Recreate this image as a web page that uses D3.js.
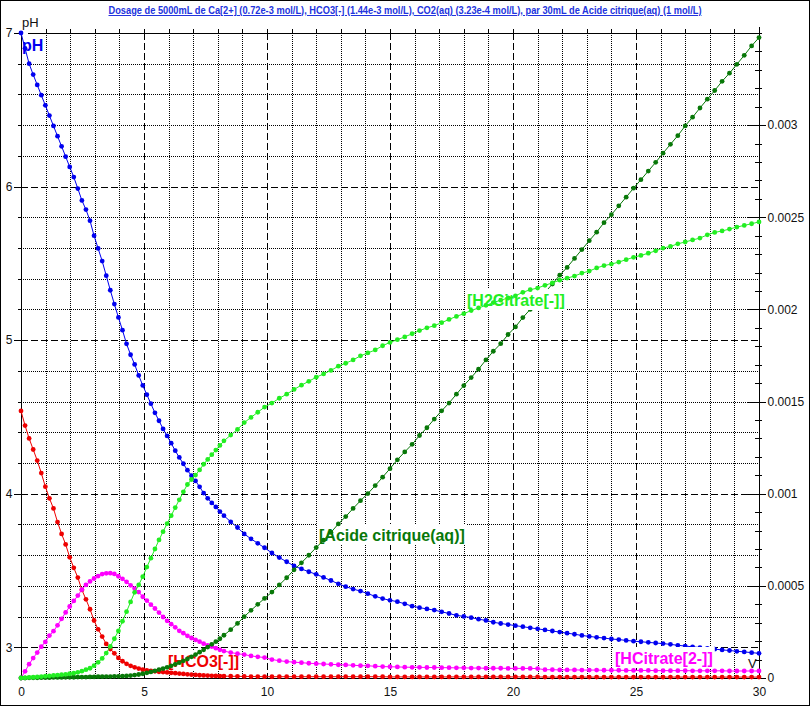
<!DOCTYPE html>
<html>
<head>
<meta charset="utf-8">
<script src="https://cdn.jsdelivr.net/npm/d3@7"></script>
<style>
  body { margin: 0; background: #fff; }
  svg { display: block; }
</style>
</head>
<body>
<svg id="chart" width="810" height="706"></svg>
<script>
/* global d3 */

// volume of titrant added (mL) - one entry per computed point
const volumes = [
  0, 0.165, 0.33, 0.495, 0.66, 0.825, 0.99, 1.155, 1.32, 1.485,
  1.65, 1.815, 1.98, 2.145, 2.31, 2.475, 2.64, 2.805, 2.97, 3.135,
  3.3, 3.465, 3.63, 3.795, 3.96, 4.125, 4.29, 4.455, 4.62, 4.785,
  4.95, 5.115, 5.28, 5.445, 5.61, 5.775, 5.94, 6.105, 6.27, 6.435,
  6.6, 6.765, 6.93, 7.095, 7.26, 7.425, 7.59, 7.755, 7.92, 8.085,
  8.25, 8.525, 8.8, 9.075, 9.35, 9.625, 9.9, 10.2, 10.5, 10.8,
  11.1, 11.4, 11.7, 12, 12.3, 12.6, 12.9, 13.2, 13.5, 13.8,
  14.1, 14.4, 14.7, 15, 15.3, 15.6, 15.9, 16.2, 16.5, 16.8,
  17.1, 17.4, 17.7, 18, 18.3, 18.6, 18.9, 19.2, 19.5, 19.8,
  20.1, 20.4, 20.7, 21, 21.3, 21.6, 21.9, 22.2, 22.5, 22.8,
  23.1, 23.4, 23.7, 24, 24.3, 24.6, 24.9, 25.2, 25.5, 25.8,
  26.1, 26.4, 26.7, 27, 27.3, 27.6, 27.9, 28.2, 28.5, 28.8,
  29.1, 29.4, 29.7, 30
]

const pHValues = [
  7.00, 6.90, 6.80, 6.729, 6.662, 6.595, 6.529, 6.462, 6.395, 6.328,
  6.262, 6.195, 6.128, 6.062, 5.987, 5.91, 5.85, 5.778, 5.68, 5.597,
  5.515, 5.42, 5.325, 5.235, 5.148, 5.065, 4.976, 4.905, 4.842, 4.77,
  4.705, 4.645, 4.586, 4.527, 4.475, 4.422, 4.376, 4.329, 4.28, 4.236,
  4.195, 4.153, 4.117, 4.083, 4.045, 4.004, 3.97, 3.94, 3.914, 3.884,
  3.857, 3.817, 3.78, 3.738, 3.706, 3.677, 3.648, 3.614, 3.584, 3.557,
  3.53, 3.51, 3.492, 3.475, 3.455, 3.435, 3.413, 3.395, 3.379, 3.366,
  3.349, 3.332, 3.317, 3.306, 3.297, 3.283, 3.268, 3.258, 3.25, 3.242,
  3.231, 3.22, 3.208, 3.201, 3.193, 3.183, 3.175, 3.163, 3.155, 3.148,
  3.141, 3.134, 3.127, 3.12, 3.113, 3.106, 3.099, 3.092, 3.085, 3.077,
  3.071, 3.065, 3.06, 3.054, 3.05, 3.045, 3.04, 3.036, 3.032, 3.028,
  3.024, 3.019, 3.013, 3.008, 3.003, 2.998, 2.993, 2.988, 2.983, 2.979,
  2.974, 2.97, 2.965, 2.961
]

// concentrations (mol/L)
const hco3 = [
  0.001449, 0.00137, 0.0013, 0.00124, 0.00118, 0.001112, 0.001038, 0.000975, 0.00092, 0.000846,
  0.000782, 0.000725, 0.000655, 0.000598, 0.000545, 0.000478, 0.000427, 0.000373, 0.000312, 0.000264,
  0.000225, 0.000185, 0.000157, 0.000134, 0.000109, 0.000091, 0.000077, 0.000066, 0.000058, 0.000051,
  0.000045, 0.000041, 0.000038, 0.000036, 0.000034, 0.000032, 0.00003, 0.000028, 0.000026, 0.000024,
  0.000022, 0.00002, 0.000018, 0.0000165, 0.000015, 0.000014, 0.000013, 0.000012, 0.000011, 0.0000105,
  0.00001, 0.0000095, 0.000009, 0.0000085, 0.000008, 0.0000075, 0.000007, 0.000007, 0.000007, 0.000007,
  0.000007, 0.000007, 0.000007, 0.000007, 0.000007, 0.000007, 0.000007, 0.000007, 0.000007, 0.000007,
  0.000007, 0.000007, 0.000007, 0.000006, 0.000006, 0.000006, 0.000006, 0.000006, 0.000006, 0.000006,
  0.000006, 0.000006, 0.000006, 0.000006, 0.000006, 0.000006, 0.000006, 0.000006, 0.000006, 0.000006,
  0.000006, 0.000006, 0.000006, 0.000006, 0.000005, 0.000005, 0.000005, 0.000005, 0.000005, 0.000005,
  0.000005, 0.000005, 0.000005, 0.000005, 0.000005, 0.000005, 0.000005, 0.000005, 0.000005, 0.000005,
  0.000005, 0.000005, 0.000005, 0.000005, 0.000005, 0.000005, 0.000005, 0.000005, 0.000005, 0.000005,
  0.000005, 0.000005, 0.000005, 0.000005
]

const hCitrate = [
  0, 0.000036, 0.000075, 0.000108, 0.000138, 0.00017, 0.000196, 0.00023, 0.000254, 0.000286,
  0.000321, 0.000356, 0.000388, 0.000418, 0.000447, 0.00048, 0.000505, 0.000524, 0.00054, 0.000553,
  0.000564, 0.000568, 0.000569, 0.000565, 0.000552, 0.000538, 0.000522, 0.000503, 0.000485, 0.000466,
  0.000441, 0.00042, 0.000398, 0.000377, 0.000355, 0.000331, 0.00031, 0.000292, 0.000275, 0.000256,
  0.000243, 0.000229, 0.000217, 0.000207, 0.000197, 0.000186, 0.000177, 0.000171, 0.000162, 0.000153,
  0.000146, 0.000138, 0.000132, 0.000127, 0.00012, 0.000115, 0.000111, 0.0001, 0.000094, 0.000089,
  0.000086, 0.000083, 0.00008, 0.000078, 0.000076, 0.000074, 0.000072, 0.000071, 0.000069, 0.000067,
  0.000066, 0.000064, 0.000062, 0.000061, 0.00006, 0.000059, 0.000058, 0.000058, 0.000057, 0.000057,
  0.000056, 0.000056, 0.000055, 0.000055, 0.000054, 0.000054, 0.000053, 0.000053, 0.000053, 0.000052,
  0.000052, 0.000052, 0.000052, 0.000051, 0.000045, 0.000045, 0.000044, 0.000044, 0.000044, 0.000043,
  0.000043, 0.000043, 0.000042, 0.000042, 0.000042, 0.000041, 0.000041, 0.000041, 0.000041, 0.00004,
  0.00004, 0.00004, 0.00004, 0.00004, 0.000039, 0.000039, 0.000039, 0.000039, 0.000039, 0.000038,
  0.000038, 0.000038, 0.000038, 0.000038
]

const acideCitrique = [
  0, 0, 0.000001, 0.000001, 0.000001, 0.000002, 0.000002, 0.000002, 0.000003, 0.000003,
  0.000003, 0.000004, 0.000004, 0.000004, 0.000005, 0.000005, 0.000005, 0.000006, 0.000006, 0.000007,
  0.000007, 0.000008, 0.000008, 0.000009, 0.000009, 0.00001, 0.000011, 0.000013, 0.000016, 0.000019,
  0.000023, 0.000028, 0.000033, 0.000039, 0.000045, 0.000051, 0.000058, 0.000066, 0.000074, 0.000083,
  0.000093, 0.000103, 0.000115, 0.000127, 0.00014, 0.000153, 0.000168, 0.000183, 0.000197, 0.000213,
  0.000232, 0.000262, 0.000296, 0.000333, 0.000367, 0.0004, 0.000432, 0.000466, 0.000505, 0.000544,
  0.000587, 0.000625, 0.000666, 0.000708, 0.000748, 0.00079, 0.000836, 0.000876, 0.00092, 0.000962,
  0.001001, 0.001044, 0.00109, 0.001136, 0.001184, 0.001227, 0.001268, 0.001316, 0.001358, 0.001405,
  0.00145, 0.001492, 0.00154, 0.001587, 0.00163, 0.001676, 0.001726, 0.001773, 0.001814, 0.001864,
  0.001905, 0.001956, 0.002, 0.002045, 0.002092, 0.002138, 0.002186, 0.002228, 0.002277, 0.002325,
  0.002373, 0.002419, 0.002471, 0.002514, 0.002562, 0.002609, 0.002658, 0.002704, 0.002751, 0.002798,
  0.002848, 0.002896, 0.002943, 0.002996, 0.003043, 0.003093, 0.003141, 0.003188, 0.003238, 0.003282,
  0.00333, 0.003379, 0.00343, 0.003475
]

const h2Citrate = [
  0, 0.000001, 0.000003, 0.000004, 0.000006, 0.000008, 0.00001, 0.000012, 0.000014, 0.000016,
  0.000018, 0.00002, 0.000023, 0.000026, 0.000031, 0.000037, 0.000045, 0.000053, 0.000067, 0.000085,
  0.000106, 0.000135, 0.000171, 0.000213, 0.000255, 0.000308, 0.00036, 0.000413, 0.000465, 0.000505,
  0.00055, 0.000602, 0.00065, 0.0007, 0.000749, 0.000794, 0.000838, 0.000881, 0.000925, 0.000967,
  0.00101, 0.00105, 0.001077, 0.001101, 0.001129, 0.00116, 0.001186, 0.001212, 0.001237, 0.001262,
  0.001287, 0.001318, 0.001349, 0.001386, 0.001414, 0.001442, 0.00147, 0.001492, 0.001518, 0.00154,
  0.001566, 0.001589, 0.00161, 0.001632, 0.00165, 0.001669, 0.001692, 0.001708, 0.001726, 0.001748,
  0.001764, 0.00178, 0.001803, 0.001821, 0.001836, 0.001851, 0.001868, 0.001885, 0.0019, 0.001912,
  0.001928, 0.001946, 0.001962, 0.001977, 0.001994, 0.002008, 0.002022, 0.002037, 0.00205, 0.002062,
  0.002074, 0.002093, 0.002107, 0.002116, 0.002131, 0.002144, 0.002159, 0.00217, 0.002181, 0.002197,
  0.002208, 0.002225, 0.002238, 0.002246, 0.002257, 0.00227, 0.002283, 0.002293, 0.002305, 0.002318,
  0.002333, 0.002342, 0.002356, 0.002366, 0.002377, 0.002387, 0.002405, 0.002418, 0.002426, 0.002436,
  0.002447, 0.002456, 0.002465, 0.002475
]

const volumeTicks = [0, 5, 10, 15, 20, 25, 30]
const pHTicks = [3, 4, 5, 6, 7]
const concTicks = [0, 0.0005, 0.001, 0.0015, 0.002, 0.0025, 0.003]

const title = 'Dosage de 5000mL de Ca[2+] (0.72e-3 mol/L), HCO3[-] (1.44e-3 mol/L), CO2(aq) (3.23e-4 mol/L),  par 30mL  de Acide citrique(aq) (1 mol/L)'

const plotLeft = 21
const plotRight = 759
const plotTop = 33
const plotBottom = 678

const svg = d3.select('#chart')

svg.append('rect')
  .attr('x', 0.5).attr('y', 0.5)
  .attr('width', 809).attr('height', 705)
  .attr('fill', '#fff').attr('stroke', '#000')

const x = d3.scaleLinear().domain([0, 30]).range([plotLeft, plotRight])
const yPH = d3.scaleLinear().domain([2.8, 7]).range([plotBottom, plotTop])
const yConc = d3.scaleLinear().domain([0, 0.0035]).range([plotBottom, plotTop])

const crisp = v => Math.round(v) + 0.5

// grid
const grid = svg.append('g').attr('shape-rendering', 'crispEdges').attr('stroke', '#000')
d3.range(1, 30).forEach(v => {
  grid.append('line')
    .attr('x1', crisp(x(v))).attr('x2', crisp(x(v)))
    .attr('y1', plotTop).attr('y2', plotBottom)
    .attr('stroke-dasharray', v % 5 === 0 ? '7,3' : '1,1')
})
d3.range(15, 35).map(k => k / 5).forEach(p => {
  grid.append('line')
    .attr('x1', plotLeft).attr('x2', plotRight)
    .attr('y1', crisp(yPH(p))).attr('y2', crisp(yPH(p)))
    .attr('stroke-dasharray', Number.isInteger(p) ? '7,3' : '1,1')
})

// frame lines
const axes = svg.append('g').attr('shape-rendering', 'crispEdges').attr('stroke', '#000')
axes.append('line').attr('x1', crisp(plotLeft)).attr('x2', crisp(plotLeft)).attr('y1', plotTop).attr('y2', plotBottom)
axes.append('line').attr('x1', plotLeft).attr('x2', plotRight + 1).attr('y1', crisp(plotBottom)).attr('y2', crisp(plotBottom))
axes.append('line').attr('x1', crisp(plotRight)).attr('x2', crisp(plotRight)).attr('y1', 27).attr('y2', plotBottom)
axes.append('line').attr('x1', 28).attr('x2', plotRight).attr('y1', crisp(plotTop)).attr('y2', crisp(plotTop))
d3.range(1, 30).forEach(v => {
  axes.append('line').attr('x1', crisp(x(v))).attr('x2', crisp(x(v))).attr('y1', 29).attr('y2', plotTop)
})

const tickFont = g => g.selectAll('text')
  .attr('font-family', '"Liberation Sans", Arial, sans-serif')
  .attr('font-size', 12)
  .attr('fill', '#111')

// left pH axis
const leftAxis = svg.append('g')
  .attr('transform', `translate(${crisp(plotLeft)},0)`)
  .call(d3.axisLeft(yPH)
    .tickValues(d3.range(15, 36).map(k => k / 5))
    .tickSize(4)
    .tickPadding(1)
    .tickFormat(d => pHTicks.includes(d) ? d : ''))
leftAxis.select('.domain').remove()
leftAxis.selectAll('.tick line').attr('x2', d => pHTicks.includes(d) ? -8 : -4).attr('shape-rendering', 'crispEdges')
leftAxis.selectAll('.tick text').attr('x', -9)
leftAxis.call(tickFont)

// right concentration axis
const rightAxis = svg.append('g')
  .attr('transform', `translate(${crisp(plotRight)},0)`)
  .call(d3.axisRight(yConc)
    .tickValues(d3.range(0, 36).map(k => k / 10000))
    .tickSize(6)
    .tickPadding(2)
    .tickFormat(d => concTicks.includes(d) ? String(d) : ''))
rightAxis.select('.domain').remove()
rightAxis.selectAll('.tick line')
  .attr('x1', d => concTicks.includes(d) ? -12 : -5)
  .attr('x2', d => concTicks.includes(d) ? 6 : 2)
  .attr('shape-rendering', 'crispEdges')
rightAxis.call(tickFont)

// bottom volume axis
const bottomAxis = svg.append('g')
  .attr('transform', `translate(0,${plotBottom})`)
  .call(d3.axisBottom(x).tickValues(volumeTicks).tickSize(0).tickPadding(9))
bottomAxis.select('.domain').remove()
bottomAxis.call(tickFont)

svg.append('text').attr('x', 22).attr('y', 27).text('pH')
  .attr('font-family', '"Liberation Sans", Arial, sans-serif').attr('font-size', 13).attr('fill', '#111')
svg.append('text').attr('x', 748).attr('y', 668).text('V')
  .attr('font-family', '"Liberation Sans", Arial, sans-serif').attr('font-size', 13).attr('fill', '#111')

svg.append('text')
  .attr('x', 405).attr('y', 14)
  .attr('text-anchor', 'middle')
  .attr('font-family', '"Liberation Sans", Arial, sans-serif')
  .attr('font-size', 10)
  .attr('font-weight', 'bold')
  .attr('fill', '#2233dd')
  .attr('text-decoration', 'underline')
  .attr('textLength', 593)
  .attr('lengthAdjust', 'spacingAndGlyphs')
  .text(title)

const series = [
  { label: 'pH', values: pHValues, scale: yPH, color: '#0000f0', lx: 22, ly: 51, boxed: false },
  { label: '[HCO3[-]]', values: hco3, scale: yConc, color: '#ee0000', lx: 168, ly: 667, boxed: true },
  { label: '[HCitrate[2-]]', values: hCitrate, scale: yConc, color: '#ff00ff', lx: 615, ly: 664, boxed: true },
  { label: '[Acide citrique(aq)]', values: acideCitrique, scale: yConc, color: '#087808', lx: 319, ly: 541, boxed: true },
  { label: '[H2Citrate[-]]', values: h2Citrate, scale: yConc, color: '#22ee22', lx: 467, ly: 306, boxed: true }
]

// each label goes in before its own curve, so later curves run over earlier labels
series.forEach(s => {
  const g = svg.append('g')
  const label = g.append('text')
    .attr('x', s.lx).attr('y', s.ly)
    .attr('font-family', '"Liberation Sans", Arial, sans-serif')
    .attr('font-size', 16)
    .attr('font-weight', 'bold')
    .attr('fill', s.color)
    .text(s.label)
  if (s.boxed) {
    const bb = label.node().getBBox()
    g.insert('rect', 'text')
      .attr('x', bb.x - 2).attr('y', bb.y - 3)
      .attr('width', bb.width + 4).attr('height', bb.height + 4)
      .attr('fill', '#fff')
  }
  const points = volumes.map((v, i) => ({ v: v, c: s.values[i] }))
  g.append('path')
    .datum(points)
    .attr('fill', 'none')
    .attr('stroke', s.color)
    .attr('stroke-width', 1)
    .attr('d', d3.line().x(d => x(d.v)).y(d => s.scale(d.c)))
  g.selectAll('circle')
    .data(points)
    .enter()
    .append('circle')
    .attr('cx', d => x(d.v))
    .attr('cy', d => s.scale(d.c))
    .attr('r', 2.4)
    .attr('fill', s.color)
})
</script>
</body>
</html>
